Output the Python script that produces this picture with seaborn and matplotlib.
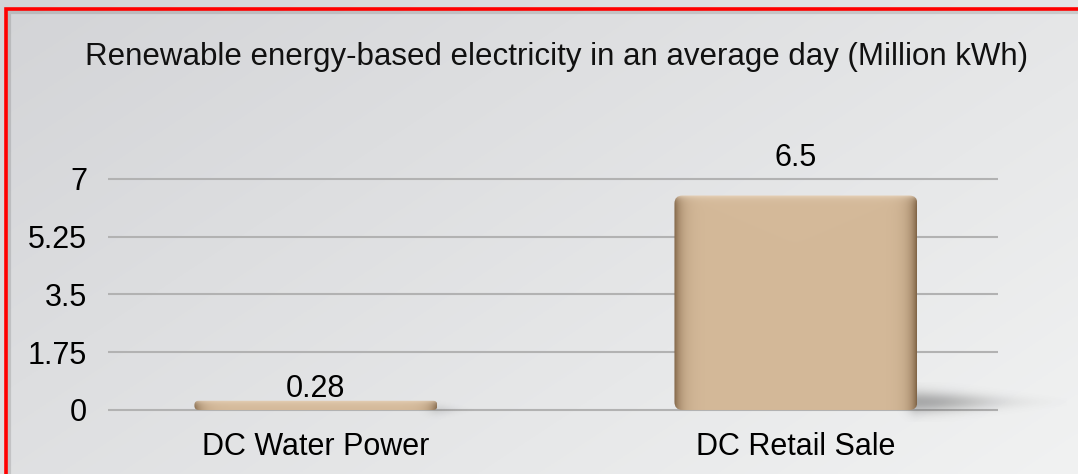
import numpy as np
import pandas as pd
import seaborn as sns
import matplotlib.pyplot as plt
from matplotlib.patches import Rectangle, FancyBboxPatch

categories = ["DC Water Power", "DC Retail Sale"]
values = [0.28, 6.5]
value_labels = ["0.28", "6.5"]
y_ticks = [0, 1.75, 3.5, 5.25, 7]
y_tick_labels = ["0", "1.75", "3.5", "5.25", "7"]
title = "Renewable energy-based electricity in an average day (Million kWh)"

# label offsets above each bar (points)
label_offsets = [-2, 16]

sns.set_theme(style="white")
plt.rcParams['font.family'] = ['Liberation Sans', 'DejaVu Sans']

fig = plt.figure(figsize=(10.78, 4.74), dpi=100)

# soft diagonal grey backdrop
bg = fig.add_axes([0, 0, 1, 1], zorder=-10)
yy, xx = np.mgrid[0:1:240j, 0:1:540j]
t = np.clip(xx * 0.6 + yy * 0.4, 0, 1)[..., None]
c0 = np.array([211, 212, 215]) / 255
c1 = np.array([241, 242, 242]) / 255
bg.imshow(c0 + t * (c1 - c0), aspect="auto", extent=[0, 1, 0, 1], origin="upper")
bg.set_axis_off()

ax = fig.add_axes([0.1002, 0.1072, 0.8256, 0.557])
ax.set_facecolor("none")
df = pd.DataFrame({"category": categories, "value": values})
sns.barplot(data=df, x="category", y="value", color="#d3b797", saturation=1,
            width=0.506, ax=ax, zorder=3)

ax.set_xlim(-0.433, 1.421)
ax.set_ylim(-0.4, 7.6)

# pixel scale of the data axes
bbox = ax.get_position()
px_x = bbox.width * fig.get_figwidth() * fig.dpi / (1.421 + 0.433)
px_y = bbox.height * fig.get_figheight() * fig.dpi / (7.6 + 0.4)

bars = [p for p in ax.patches if isinstance(p, Rectangle)]

# brushed metal shading across each bar
edge = np.array([128, 100, 70]) / 255
mid = np.array([212, 185, 153]) / 255
light = np.array([236, 218, 196]) / 255
for patch in bars:
    x0, y0 = patch.get_x(), patch.get_y()
    w, h = patch.get_width(), patch.get_height()
    wpx, hpx = w * px_x, h * px_y
    fx = np.linspace(0, 1, 400)[None, :]
    fy = np.linspace(0, 1, 300)[:, None]
    e = np.clip(np.exp(-fx * wpx / 7) + np.exp(-(1 - fx) * wpx / 7), 0, 1)
    top = np.exp(-(1 - fy) * hpx / 3) * 0.8
    img = mid + e[..., None] * (edge - mid)
    img = img + top[..., None] * (light - img)
    img = np.broadcast_to(img, (300, 400, 3))
    r_px = min(8.0, hpx / 2.2)
    shape = FancyBboxPatch((x0, y0), w, h,
                           boxstyle=f"round,pad=0,rounding_size={r_px / px_x}",
                           mutation_aspect=px_x / px_y, transform=ax.transData,
                           facecolor="none", edgecolor="none")
    ax.add_patch(shape)
    patch.set_visible(False)

    # soft cast shadow on the floor, trailing off to the right of the bar
    tall = hpx > 30
    left_px, right_px = -30.0, 150.0 if tall else 40.0
    lo_px, hi_px = (-12.0, 28.0) if tall else (-10.0, 10.0)
    gx = np.linspace(left_px, right_px, 360)[None, :]
    gy = np.linspace(lo_px, hi_px, 120)[:, None]
    ymid = (lo_px + hi_px) / 2
    yh = (hi_px - lo_px) / 2
    fade_x = np.where(gx < 0, np.exp(-(gx / 10) ** 2), np.exp(-(gx / (0.5 * right_px)) ** 2))
    taper = 1 - 0.6 * np.clip(gx / right_px, 0, 1)
    fade_y = np.exp(-((gy - ymid) / (0.55 * yh * taper)) ** 2)
    strength = 0.42 if tall else 0.12
    shadow = np.zeros((120, 360, 4))
    shadow[..., :3] = 0.3
    shadow[..., 3] = strength * fade_x * fade_y
    ax.imshow(shadow, extent=[x0 + w + left_px / px_x, x0 + w + right_px / px_x,
                              y0 + lo_px / px_y, y0 + hi_px / px_y],
              aspect="auto", zorder=2.5, origin="lower", clip_on=False,
              interpolation="bilinear")

    im = ax.imshow(img, extent=[x0, x0 + w, y0, y0 + h], aspect="auto",
                   zorder=3.5, origin="lower", interpolation="bilinear")
    im.set_clip_path(shape)

ax.set_xlim(-0.433, 1.421)
ax.set_ylim(-0.4, 7.6)
ax.set_yticks(y_ticks, y_tick_labels)
ax.yaxis.grid(True, color="#b2b2b2", lw=1.5)
ax.set_axisbelow(True)
for s in ax.spines.values():
    s.set_visible(False)
ax.set_xlabel("")
ax.set_ylabel("")
ax.tick_params(axis="y", labelsize=22, pad=15, length=0, labelcolor="black")
ax.tick_params(axis="x", labelsize=22, pad=6, length=0, labelcolor="black")

for patch, lab, off in zip(bars, value_labels, label_offsets):
    ax.annotate(lab, (patch.get_x() + patch.get_width() / 2, patch.get_height()),
                xytext=(0, off), textcoords="offset points", ha="center", va="bottom",
                fontsize=22, color="black", zorder=5, annotation_clip=False)

fig.text(0.516, 0.879, title, ha="center", va="center", fontsize=22.5, color="#111111")

# red frame with a faint drop shadow
fig.patches.append(Rectangle((8.5 / 1078, -0.1), 1.2, 1.075, transform=fig.transFigure,
                             fill=False, edgecolor="#000000", alpha=0.12, lw=3, zorder=9))
fig.patches.append(Rectangle((5.5 / 1078, -0.1), 1.2, 1.081, transform=fig.transFigure,
                             fill=False, edgecolor="#ff0000", lw=2.6, zorder=10))

fig.savefig("out.png", dpi=100)
